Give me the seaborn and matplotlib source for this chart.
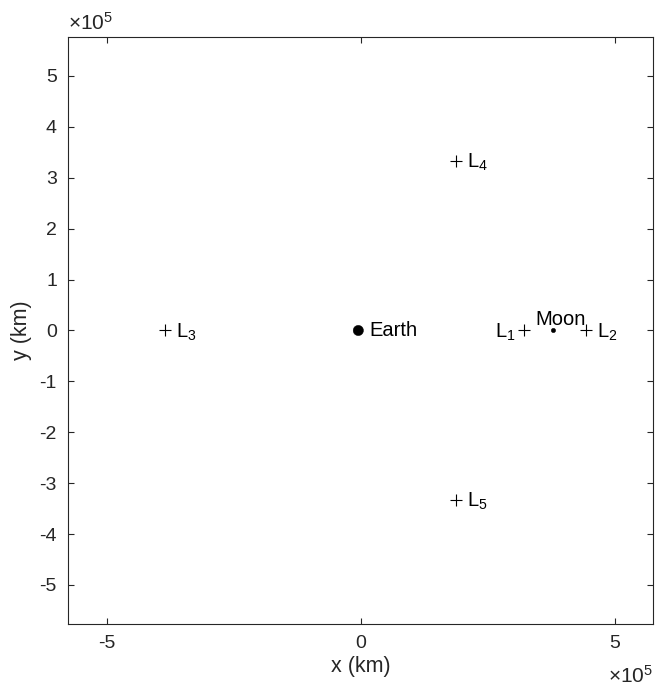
import numpy as np
import pandas as pd
import matplotlib
matplotlib.use("Agg")
import matplotlib.pyplot as plt
import seaborn as sns

# ── Data: Earth-Moon system in barycentric frame (km) ─────────────
bodies = ["Earth", "Moon"]
body_x = [-4671, 379729]
body_y = [0, 0]
body_size = [60, 10]

lagrange = ["L1", "L2", "L3", "L4", "L5"]
lag_x = [321710, 444244, -386346, 187529, 187529]
lag_y = [0, 0, 0, 332900, -332900]

lim = 1.5 * 384400
ticks = [-5e5, 0, 5e5]
yticks = np.arange(-5, 6) * 1e5

sns.set_theme(style="white")
plt.rcParams["font.family"] = ["Liberation Sans", "DejaVu Sans"]
plt.rcParams["mathtext.fontset"] = "custom"
plt.rcParams["mathtext.rm"] = "Liberation Sans"
plt.rcParams["mathtext.it"] = "Liberation Sans"
plt.rcParams["mathtext.bf"] = "Liberation Sans"

fig = plt.figure(figsize=(6.57, 6.93), dpi=100)
ax = fig.add_axes([0.1035, 0.0996, 0.891, 0.847])

body_df = pd.DataFrame({"x": body_x, "y": body_y, "name": bodies, "s": body_size})
lag_df = pd.DataFrame({"x": lag_x, "y": lag_y, "name": lagrange})

sns.scatterplot(data=body_df, x="x", y="y", size="s", sizes=(10, 55), color="black",
                edgecolor="black", legend=False, ax=ax)
sns.scatterplot(data=lag_df, x="x", y="y", marker="+", s=70, color="black",
                linewidth=0.8, legend=False, ax=ax)

fs = 14.5
txt = dict(fontsize=fs, color="black", va="center", textcoords="offset points")
ax.annotate("Earth", (body_x[0], body_y[0]), xytext=(8, 0), ha="left", **txt)
ax.annotate("Moon", (body_x[1], body_y[1]), xytext=(5, 8), ha="center",
            fontsize=fs, color="black", va="center", textcoords="offset points")
ax.annotate(r"L$_1$", (lag_x[0], lag_y[0]), xytext=(-6, -1), ha="right", **txt)
for i in range(1, 5):
    ax.annotate(r"L$_%d$" % (i + 1), (lag_x[i], lag_y[i]), xytext=(8, -1), ha="left", **txt)

ax.set_xlim(-lim, lim)
ax.set_ylim(-lim, lim)
ax.set_xticks(ticks)
ax.set_xticklabels(["-5", "0", "5"])
ax.set_yticks(yticks)
ax.set_yticklabels([str(v) for v in range(-5, 6)])
ax.set_xlabel("x (km)", fontsize=15.5, color="#262626", labelpad=3)
ax.set_ylabel("y (km)", fontsize=15.5, color="#262626", labelpad=5)

ax.tick_params(direction="in", length=4, width=0.8, colors="#262626", labelsize=14,
               top=True, right=True, bottom=True, left=True, pad=8)
for sp in ax.spines.values():
    sp.set_color("#262626")
    sp.set_linewidth(0.8)

ax.text(0.0, 1.006, r"$\times\mathregular{10^5}$", transform=ax.transAxes, ha="left",
        va="bottom", fontsize=15, color="#262626")
ax.text(1.0, -0.07, r"$\times\mathregular{10^5}$", transform=ax.transAxes, ha="right",
        va="top", fontsize=15, color="#262626")

fig.savefig("out.png", dpi=100)
